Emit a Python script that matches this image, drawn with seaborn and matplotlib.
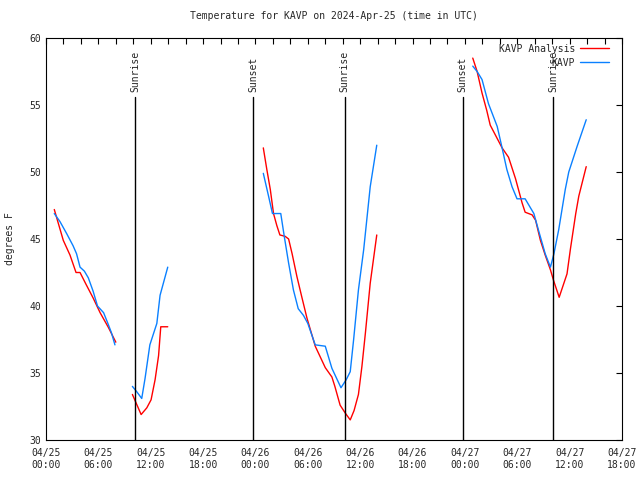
import matplotlib
matplotlib.use("Agg")
import matplotlib.pyplot as plt
import matplotlib.dates as mdates
import seaborn as sns
import pandas as pd
from matplotlib.lines import Line2D

BASE = pd.Timestamp("2024-04-25 00:00")

# Analysis (red) segments: hours since 04/25 00:00 UTC, temperature F
ana_seg1_h = [0.95, 1.98, 2.75, 3.44, 3.9, 4.6, 5.4, 6.2, 7.15, 8.0]
ana_seg1_t = [47.2, 44.9, 43.8, 42.5, 42.5, 41.6, 40.6, 39.5, 38.4, 37.3]
ana_seg2_h = [9.9, 10.9, 11.55, 12.04, 12.5, 12.9, 13.15, 13.95]
ana_seg2_t = [33.4, 31.9, 32.4, 33.0, 34.5, 36.3, 38.45, 38.45]
ana_seg3_h = [24.9, 25.3, 25.7, 26.07, 26.45, 26.8, 27.4, 27.8, 28.2, 28.75, 29.3, 29.9,
              30.85, 32.0, 32.76, 33.1, 33.7, 34.3, 34.86, 35.3, 35.8, 36.2, 36.6, 37.15, 37.9]
ana_seg3_t = [51.8, 50.2, 48.7, 46.9, 46.0, 45.3, 45.2, 45.0, 43.9, 42.2, 40.7, 39.1,
              37.0, 35.4, 34.7, 34.0, 32.6, 32.0, 31.5, 32.2, 33.4, 35.5, 38.0, 41.7, 45.3]
ana_seg4_h = [48.9, 49.4, 49.96, 50.5, 50.9, 51.7, 52.26, 53.0, 53.8, 54.55, 54.9, 55.7,
              56.1, 56.65, 57.2, 57.8, 58.16, 58.8, 59.7, 60.1, 60.7, 61.05, 61.9]
ana_seg4_t = [58.5, 57.5, 55.9, 54.6, 53.5, 52.5, 51.8, 51.1, 49.5, 47.7, 47.0, 46.8,
              46.4, 44.9, 43.8, 42.7, 41.9, 40.65, 42.4, 44.3, 46.9, 48.2, 50.4]

# Observations (blue) segments
obs_seg1_h = [0.95, 1.6, 2.37, 3.1, 3.5, 3.9, 4.4, 4.85, 5.4, 5.9, 6.6, 7.15, 7.5, 7.9]
obs_seg1_t = [46.9, 46.3, 45.4, 44.5, 43.9, 42.9, 42.6, 42.1, 41.1, 40.0, 39.5, 38.6, 38.0, 37.1]
obs_seg2_h = [9.9, 10.4, 10.97, 11.35, 11.9, 12.7, 13.07, 13.95]
obs_seg2_t = [34.0, 33.6, 33.1, 34.6, 37.1, 38.7, 40.8, 42.9]
obs_seg3_h = [24.9, 25.5, 25.95, 26.9, 27.3, 27.8, 28.35, 28.9, 29.5, 30.0, 30.85, 32.0,
              32.76, 33.8, 34.4, 34.86, 35.25, 35.8, 36.4, 37.15, 37.9]
obs_seg3_t = [49.9, 48.2, 46.9, 46.9, 45.2, 43.2, 41.2, 39.8, 39.3, 38.7, 37.1, 37.0,
              35.35, 33.9, 34.5, 35.1, 37.5, 41.2, 44.2, 48.9, 52.0]
obs_seg4_h = [48.9, 49.4, 49.96, 50.7, 51.7, 52.26, 52.8, 53.4, 53.97, 54.9, 55.9, 56.5,
              57.2, 57.8, 58.2, 58.75, 59.5, 59.9, 60.85, 61.9]
obs_seg4_t = [57.9, 57.5, 56.9, 55.1, 53.4, 51.8, 50.2, 48.9, 48.0, 48.0, 46.9, 45.5,
              43.9, 42.9, 43.9, 45.7, 48.7, 50.0, 51.9, 53.9]

sun_hours = [10.23, 23.73, 34.22, 47.75, 58.12]
sun_labels = ["Sunrise", "Sunset", "Sunrise", "Sunset", "Sunrise"]

series_names = ["KAVP Analysis", "KAVP"]
series_colors = ["#ff0000", "#0a80ff"]

rows = []
for name, segs in [
    ("KAVP Analysis", [(ana_seg1_h, ana_seg1_t), (ana_seg2_h, ana_seg2_t),
                       (ana_seg3_h, ana_seg3_t), (ana_seg4_h, ana_seg4_t)]),
    ("KAVP", [(obs_seg1_h, obs_seg1_t), (obs_seg2_h, obs_seg2_t),
              (obs_seg3_h, obs_seg3_t), (obs_seg4_h, obs_seg4_t)]),
]:
    for i, (hh, tt) in enumerate(segs):
        for h, t in zip(hh, tt):
            rows.append({"series": name, "seg": f"{name}-{i}",
                         "time": BASE + pd.to_timedelta(h, unit="h"), "temp": t})
df = pd.DataFrame(rows)

sns.set_style("white")
plt.rcParams["font.family"] = ["DejaVu Sans Mono"]
fig = plt.figure(figsize=(6.4, 4.8), dpi=100)
ax = fig.add_axes([46 / 640, 40 / 480, (622 - 46) / 640, (442 - 40) / 480])

sns.lineplot(data=df, x="time", y="temp", hue="series", units="seg", estimator=None,
             hue_order=series_names, palette=series_colors, linewidth=1.0,
             ax=ax, legend=False, sort=False)

for h, lab in zip(sun_hours, sun_labels):
    t = BASE + pd.to_timedelta(h, unit="h")
    ax.plot([t, t], [30, 55.6], color="black", linewidth=1.0)
    ax.text(t, 56.0, lab, rotation=90, ha="center", va="bottom", fontsize=7)

ax.set_xlim(BASE, BASE + pd.Timedelta(hours=66))
ax.set_ylim(30, 60)
ax.set_yticks(range(30, 61, 5))
ax.xaxis.set_major_locator(mdates.HourLocator(byhour=[0, 6, 12, 18]))
ax.xaxis.set_minor_locator(mdates.HourLocator(byhour=range(0, 24, 2)))
ax.xaxis.set_major_formatter(mdates.DateFormatter("%m/%d\n%H:%M"))
ax.tick_params(axis="both", which="both", direction="in", top=True, right=True,
               length=4, width=0.8, labelsize=7, color="black")
ax.tick_params(axis="x", which="major", pad=6)
for s in ax.spines.values():
    s.set_color("black")
    s.set_linewidth(0.8)
ax.set_xlabel("")
ax.set_ylabel("degrees F", fontsize=7, labelpad=10)
ax.set_title("Temperature for KAVP on 2024-Apr-25 (time in UTC)", fontsize=7, pad=14)

handles = [Line2D([], [], color=c, linewidth=1.0) for c in series_colors]
ax.legend(handles, series_names, loc="upper right", bbox_to_anchor=(1 - 7 / 576, 1.0),
          frameon=False, markerfirst=False, fontsize=7, handlelength=3,
          borderaxespad=0.2, labelspacing=0.4, handletextpad=0.5)

fig.savefig("out.png", dpi=100)
